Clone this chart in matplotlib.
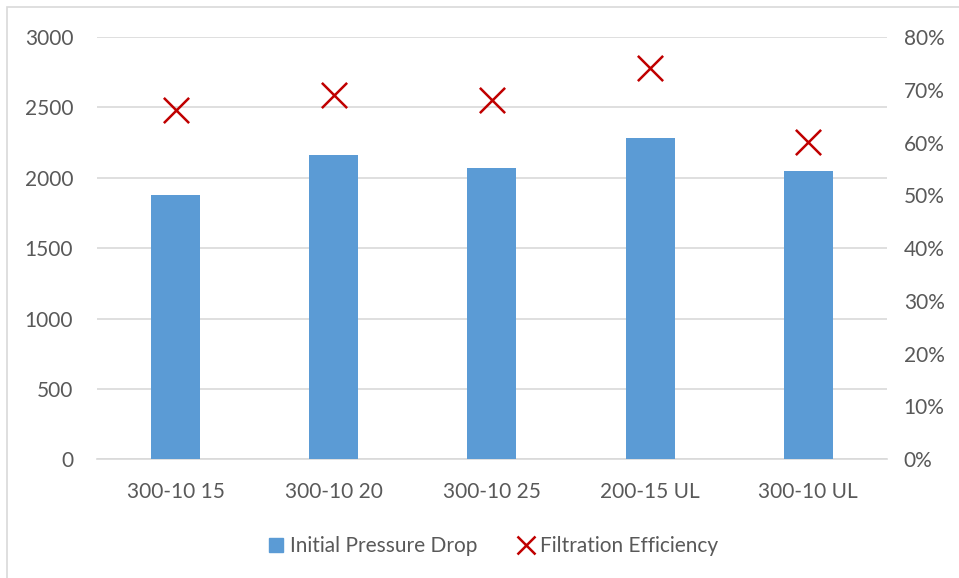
import matplotlib.pyplot as plt
from matplotlib.patches import Rectangle
from matplotlib.lines import Line2D
from matplotlib.ticker import FuncFormatter, MultipleLocator

categories = ["300-10 15", "300-10 20", "300-10 25", "200-15 UL", "300-10 UL"]
pressure_drop = [1880, 2160, 2070, 2285, 2045]
efficiency = [0.662, 0.691, 0.681, 0.741, 0.601]

plt.rcParams['font.family'] = ['Lato', 'DejaVu Sans']
text_color = "#595959"
grid_color = "#D9D9D9"
bar_color = "#5B9BD5"
x_color = "#C00000"

fig = plt.figure(figsize=(9.59, 5.78), dpi=100)
fig.patches.append(Rectangle((7 / 959, -0.01), 1.0, 1 - 7 / 578 + 0.01,
                             transform=fig.transFigure, fill=False,
                             edgecolor=grid_color, linewidth=1.2))

ax = fig.add_axes([0.101, 0.2054, 0.824, 0.7306])
ax2 = ax.twinx()

x = range(len(categories))
ax.bar(x, pressure_drop, width=0.31, color=bar_color, zorder=3)
ax2.scatter(x, efficiency, marker='x', s=330, color=x_color, linewidths=1.8, zorder=4)

ax.set_xlim(-0.5, len(categories) - 0.5)
ax.set_ylim(0, 3000)
ax.yaxis.set_major_locator(MultipleLocator(500))
ax2.set_ylim(0, 0.8)
ax2.yaxis.set_major_locator(MultipleLocator(0.1))
ax2.yaxis.set_major_formatter(FuncFormatter(lambda v, _: f"{v * 100:.0f}%"))

ax.set_xticks(list(x))
ax.set_xticklabels(categories)
ax.grid(axis='y', color=grid_color, linewidth=1.2, zorder=0)
ax.set_axisbelow(True)

fs = 15
for a in (ax, ax2):
    for s in a.spines.values():
        s.set_visible(False)
    a.tick_params(length=0, labelsize=fs, labelcolor=text_color)
ax.spines['bottom'].set_visible(True)
ax.spines['bottom'].set_color(grid_color)
ax.spines['bottom'].set_linewidth(1.2)
ax.tick_params(axis='y', pad=17)
ax.tick_params(axis='x', pad=16)
ax2.tick_params(axis='y', pad=12)

handles = [
    Line2D([], [], linestyle='none', marker='s', markersize=10, color=bar_color),
    Line2D([], [], linestyle='none', marker='x', markersize=13, markeredgewidth=1.8, color=x_color),
]
ax.legend(handles, ["Initial Pressure Drop", "Filtration Efficiency"],
          loc='center', bbox_to_anchor=(0.5, -0.205), ncol=2, frameon=False,
          fontsize=fs, labelcolor=text_color, handletextpad=0.2,
          columnspacing=1.8, handlelength=1.0)

fig.savefig("out.png", dpi=100)
